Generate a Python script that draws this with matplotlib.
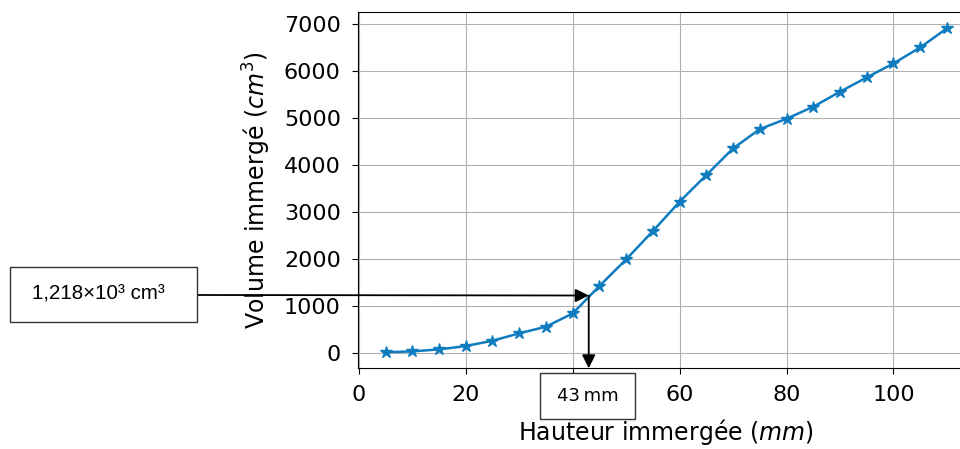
import numpy as np
import matplotlib
matplotlib.use('Agg')
import matplotlib.pyplot as plt
from matplotlib.patches import Rectangle

# hauteur immergée (mm) et volume immergé (cm3)
hauteur = [5, 10, 15, 20, 25, 30, 35, 40, 45, 50, 55,
           60, 65, 70, 75, 80, 85, 90, 95, 100, 105, 110]
volume = [10, 28, 70, 142, 255, 412, 554, 837, 1419, 1987, 2590,
          3215, 3783, 4350, 4762, 4982, 5238, 5557, 5862, 6160, 6500, 6908]

h_lu = 43
v_lu = 1218
label_v = '1,218×10³ cm³'
label_h = '43\u2009mm'

W, H = 960, 449

fig = plt.figure(figsize=(9.6, 4.49), dpi=100)
ax = fig.add_axes([357.5 / W, 1 - 368.3 / H, 617.5 / W, 356.3 / H])
ax.plot(hauteur, volume, marker='*', markersize=9, color='#0f7cc0', lw=1.8)
ax.set_xlim(-0.25, 115.25)
ax.set_ylim(-332, 7255)
ax.grid(True)
ax.set_xticks([0, 20, 40, 60, 80, 100])
ax.set_yticks(np.arange(0, 7001, 1000))
ax.tick_params(labelsize=16, length=4.5, pad=7.5)
ax.set_xlabel('Hauteur immergée ($mm$)', fontsize=17, labelpad=9)
ax.set_ylabel('Volume immergé ($cm^3$)', fontsize=17, labelpad=8)
# le "40" est caché sous la boîte de lecture
ax.get_xticklabels()[2].set_visible(False)

# lecture graphique : boîtes
fig.patches.append(Rectangle((10 / W, 1 - 322 / H), 187 / W, 55 / H,
                             transform=fig.transFigure, fc='white',
                             ec='#333333', lw=1))
fig.text(98 / W, 1 - 294 / H, label_v, ha='center', va='center',
         fontsize=14.8, family='Liberation Sans')
fig.patches.append(Rectangle((540 / W, 1 - 419 / H), 95 / W, 46 / H,
                             transform=fig.transFigure, fc='white',
                             ec='#333333', lw=1, zorder=5))
fig.text(588 / W, 1 - 396 / H, label_h, ha='center', va='center',
         fontsize=13, zorder=6)

# flèches
ax.annotate('', xy=(h_lu, v_lu), xycoords='data',
            xytext=(197 / W, 1 - 295 / H), textcoords='figure fraction',
            arrowprops=dict(arrowstyle='-|>', color='black', lw=1.3,
                            mutation_scale=20, shrinkA=0, shrinkB=0),
            annotation_clip=False)
ax.annotate('', xy=(h_lu, -332), xycoords='data',
            xytext=(h_lu, v_lu), textcoords='data',
            arrowprops=dict(arrowstyle='-|>', color='black', lw=1.3,
                            mutation_scale=20, shrinkA=0, shrinkB=0),
            annotation_clip=False)

fig.savefig('out.png', dpi=100)
